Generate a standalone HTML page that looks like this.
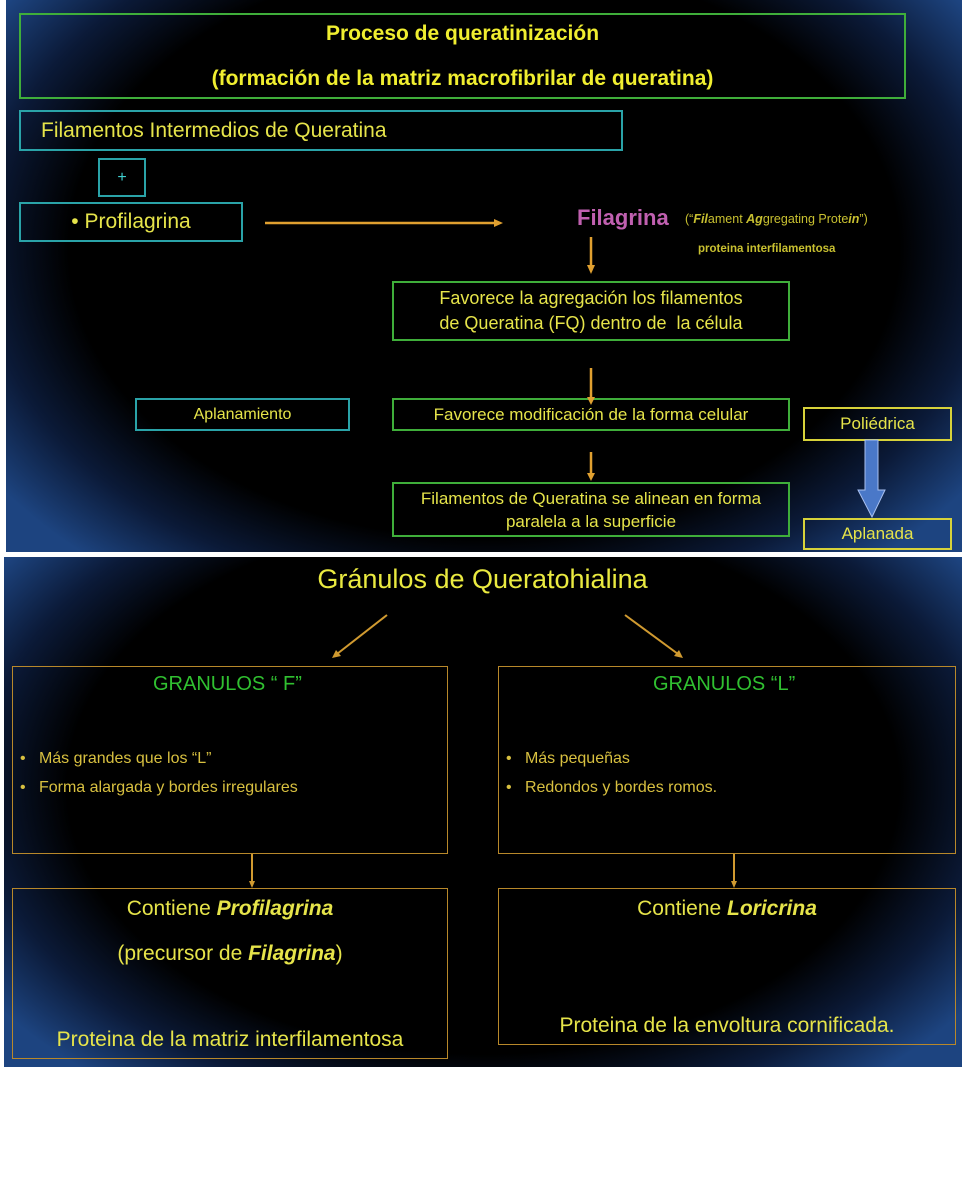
<!DOCTYPE html>
<html><head><meta charset="utf-8"><style>
*{margin:0;padding:0;box-sizing:border-box}
body{width:965px;height:1204px;background:#fff;position:relative;overflow:hidden;font-family:"Liberation Sans",sans-serif}
.p{position:absolute;background:radial-gradient(ellipse 62% 75% at 50% 45%,#000 70%,#0b1a38 85%,#1d4480 100%)}
.b{position:absolute;border:2px solid;display:flex;align-items:center;justify-content:center;text-align:center;color:#e6e44a}
.t{position:absolute;white-space:nowrap;color:#e6e44a}
.g{border-color:#3fae3a}.c{border-color:#2aa3a8}.y{border-color:#d7d23a}.o{border-color:#b8882a;border-width:1.5px}
.n{font-family:"Liberation Sans Narrow","Liberation Sans",sans-serif}
svg{position:absolute;left:0;top:0}
</style></head><body>
<div class="p" style="left:6px;top:0;width:956px;height:552px"></div>
<div class="p" style="left:4px;top:557px;width:958px;height:510px"></div>

<div class="b g" style="left:19px;top:13px;width:887px;height:86px;flex-direction:column;font-weight:bold;font-size:21px;color:#f0ee30;line-height:45px">
<div>Proceso de queratinización</div><div>(formación de la matriz macrofibrilar de queratina)</div></div>
<div class="b c" style="left:19px;top:110px;width:604px;height:41px;justify-content:flex-start;padding-left:20px;font-size:21px">Filamentos Intermedios de Queratina</div>
<div class="b c" style="left:98px;top:158px;width:48px;height:39px;font-size:16px;color:#3fd0d0">+</div>
<div class="b c" style="left:19px;top:202px;width:224px;height:40px;font-size:21px">• Profilagrina</div>
<div class="t" style="left:577px;top:205px;font-size:22px;font-weight:bold;color:#c060b0">Filagrina</div>
<div class="t" style="left:685px;top:212px;font-size:12.5px;color:#c8c030">(“<b><i>Fil</i></b>ament <b><i>Ag</i></b>gregating Prote<b><i>in</i></b>”)</div>
<div class="t" style="left:698px;top:243px;font-size:11.5px;font-weight:bold;color:#c8c030">proteina interfilamentosa</div>
<div class="b g" style="left:392px;top:281px;width:398px;height:60px;font-size:18px;line-height:25px">Favorece la agregación los filamentos<br>de Queratina (FQ) dentro de&nbsp; la célula</div>
<div class="b c" style="left:135px;top:398px;width:215px;height:33px;font-size:16px">Aplanamiento</div>
<div class="b g" style="left:392px;top:398px;width:398px;height:33px;font-size:17px">Favorece modificación de la forma celular</div>
<div class="b y" style="left:803px;top:407px;width:149px;height:34px;font-size:17px">Poliédrica</div>
<div class="b g" style="left:392px;top:482px;width:398px;height:55px;font-size:17px;line-height:23px">Filamentos de Queratina se alinean en forma<br>paralela a la superficie</div>
<div class="b y" style="left:803px;top:518px;width:149px;height:32px;font-size:17px">Aplanada</div>

<div class="t n" style="left:0;width:965px;text-align:center;top:564px;font-size:27px;color:#eaea40">Gránulos de Queratohialina</div>
<div class="b o" style="left:12px;top:666px;width:436px;height:188px"></div>
<div class="b o" style="left:498px;top:666px;width:458px;height:188px"></div>
<div class="t n" style="left:153px;top:673px;font-size:20px;color:#30c030">GRANULOS “ F”</div>
<div class="t n" style="left:653px;top:673px;font-size:20px;color:#30c030">GRANULOS “L”</div>
<div class="t n" style="left:20px;top:744px;font-size:16px;color:#d8c040;line-height:29px">•&nbsp;&nbsp; Más grandes que los “L”<br>•&nbsp;&nbsp; Forma alargada y bordes irregulares</div>
<div class="t n" style="left:506px;top:744px;font-size:16px;color:#d8c040;line-height:29px">•&nbsp;&nbsp; Más pequeñas<br>•&nbsp;&nbsp; Redondos y bordes romos.</div>
<div class="b o" style="left:12px;top:888px;width:436px;height:171px"></div>
<div class="b o" style="left:498px;top:888px;width:458px;height:157px"></div>
<div class="t" style="left:12px;width:436px;text-align:center;top:897px;font-size:21px">Contiene <b><i>Profilagrina</i></b></div>
<div class="t" style="left:12px;width:436px;text-align:center;top:942px;font-size:21px">(precursor de <b><i>Filagrina</i></b>)</div>
<div class="t" style="left:12px;width:436px;text-align:center;top:1028px;font-size:21px">Proteina de la matriz interfilamentosa</div>
<div class="t" style="left:498px;width:458px;text-align:center;top:897px;font-size:21px">Contiene <b><i>Loricrina</i></b></div>
<div class="t" style="left:498px;width:458px;text-align:center;top:1014px;font-size:21px">Proteina de la envoltura cornificada.</div>

<svg width="965" height="1204">
<g stroke="#e0a030" stroke-width="2.5" fill="#e0a030">
<line x1="265" y1="223" x2="496" y2="223"/><polygon points="503,223 494,219 494,227" stroke="none"/>
<line x1="591" y1="237" x2="591" y2="267"/><polygon points="591,274 587,265 595,265" stroke="none"/>
<line x1="591" y1="368" x2="591" y2="399"/><polygon points="591,405 587,397 595,397" stroke="none"/>
<line x1="591" y1="452" x2="591" y2="474"/><polygon points="591,481 587,473 595,473" stroke="none"/>
</g>
<g stroke="#d09a30" stroke-width="2" fill="#d09a30">
<line x1="387" y1="615" x2="337" y2="654"/><polygon points="332,658 336,650 341,656" stroke="none"/>
<line x1="625" y1="615" x2="678" y2="654"/><polygon points="683,658 674,656 679,650" stroke="none"/>
<line x1="252" y1="854" x2="252" y2="883"/><polygon points="252,888 249,881 255,881" stroke="none"/>
<line x1="734" y1="854" x2="734" y2="883"/><polygon points="734,888 731,881 737,881" stroke="none"/>
</g>
<polygon points="865,440 878,440 878,490 885,490 872,517 858,490 865,490" fill="#4a78c8" stroke="#a8c0f0" stroke-width="1"/>
</svg>
</body></html>
